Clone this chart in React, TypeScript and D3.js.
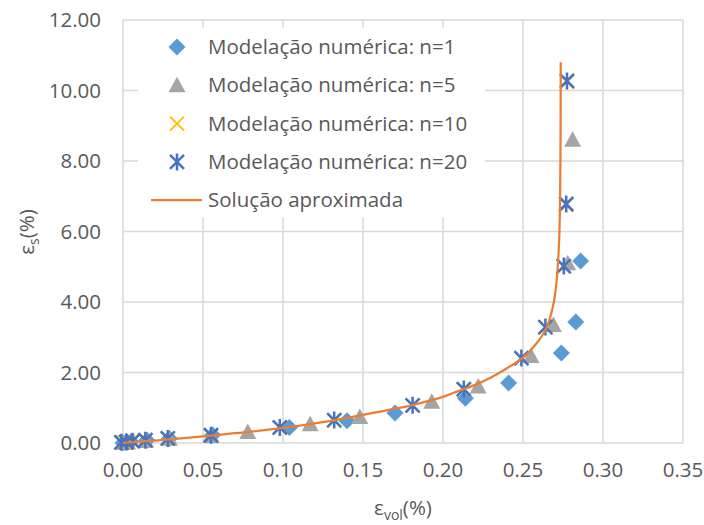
import * as d3 from 'd3';

// n=1 (diamonds)
const n1X = [0.000, 0.002, 0.005, 0.015, 0.029, 0.056, 0.104, 0.140, 0.170, 0.214, 0.241, 0.274, 0.283, 0.286];
const n1Y = [0.00, 0.02, 0.04, 0.08, 0.13, 0.23, 0.44, 0.63, 0.85, 1.27, 1.70, 2.55, 3.43, 5.16];
// n=5 (triangles)
const n5X = [0.000, 0.003, 0.014, 0.029, 0.055, 0.078, 0.117, 0.148, 0.193, 0.222, 0.255, 0.269, 0.278, 0.281];
const n5Y = [0.00, 0.02, 0.06, 0.12, 0.20, 0.31, 0.53, 0.74, 1.17, 1.60, 2.47, 3.35, 5.10, 8.60];
// n=10 (yellow x)
const n10X = [0.000, 0.003, 0.006, 0.014, 0.028, 0.055, 0.098, 0.132, 0.181, 0.213, 0.249, 0.264, 0.2755, 0.277, 0.2775];
const n10Y = [0.02, 0.03, 0.05, 0.08, 0.13, 0.22, 0.43, 0.64, 1.06, 1.52, 2.40, 3.28, 5.00, 6.76, 10.25];
// n=20 (stars)
const n20X = [-0.001, 0.002, 0.006, 0.014, 0.028, 0.055, 0.098, 0.132, 0.181, 0.213, 0.249, 0.264, 0.2755, 0.277, 0.2775];
const n20Y = [0.02, 0.03, 0.05, 0.08, 0.13, 0.22, 0.44, 0.65, 1.07, 1.53, 2.41, 3.29, 5.02, 6.78, 10.27];
// approximate solution (line)
const solX = [0, 0.02, 0.05, 0.08, 0.10, 0.13, 0.15, 0.18, 0.20, 0.21, 0.22, 0.23, 0.24, 0.25, 0.258, 0.262, 0.265, 0.2675, 0.2695, 0.271, 0.272, 0.2727, 0.2731, 0.2734, 0.2736];
const solY = [0, 0.07, 0.19, 0.32, 0.43, 0.63, 0.80, 1.07, 1.31, 1.48, 1.65, 1.86, 2.12, 2.42, 2.80, 3.05, 3.30, 3.65, 4.05, 4.60, 5.20, 5.90, 6.70, 8.00, 10.80];

const xTicks = [0, 0.05, 0.10, 0.15, 0.20, 0.25, 0.30, 0.35];
const yTicks = [0, 2, 4, 6, 8, 10, 12];

const legendLabels = [
  'Modelação numérica: n=1',
  'Modelação numérica: n=5',
  'Modelação numérica: n=10',
  'Modelação numérica: n=20',
  'Solução aproximada',
];

const FONT = "'Open Sans', sans-serif";
const TXT = '#595959';
const GRID = '#d9d9d9';
const C_DIAMOND = '#5b9bd5';
const C_TRI = '#a5a5a5';
const C_X = '#ffc000';
const C_STAR = '#4472c4';
const C_LINE = '#ed7d31';

const zip = (xs: number[], ys: number[]) => xs.map((x, i) => [x, ys[i]] as [number, number]);

const Diamond = ({ x, y }: { x: number; y: number }) => (
  <path d={`M${x},${y - 8.5}L${x + 8.5},${y}L${x},${y + 8.5}L${x - 8.5},${y}Z`} fill={C_DIAMOND} />
);
const Triangle = ({ x, y }: { x: number; y: number }) => (
  <path d={`M${x},${y - 8.5}L${x + 8.5},${y + 7}L${x - 8.5},${y + 7}Z`} fill={C_TRI} />
);
const Cross = ({ x, y }: { x: number; y: number }) => (
  <path d={`M${x - 7},${y - 7}L${x + 7},${y + 7}M${x - 7},${y + 7}L${x + 7},${y - 7}`} stroke={C_X} strokeWidth={2} fill="none" />
);
const Star = ({ x, y }: { x: number; y: number }) => (
  <path
    d={`M${x - 7},${y - 7}L${x + 7},${y + 7}M${x - 7},${y + 7}L${x + 7},${y - 7}M${x},${y - 8.5}L${x},${y + 8.5}`}
    stroke={C_STAR}
    strokeWidth={2.5}
    fill="none"
  />
);

export default function App() {
  const x = d3.scaleLinear().domain([0, 0.35]).range([123, 683]);
  const y = d3.scaleLinear().domain([0, 12]).range([443, 20]);
  const fmt = d3.format('.2f');

  const line = d3
    .line<[number, number]>()
    .x(d => x(d[0]))
    .y(d => y(d[1]))
    .curve(d3.curveCatmullRom.alpha(0.5));

  const legendX = 138;
  const legendY = 28;
  const rowY = (i: number) => 47 + i * 38.3;

  return (
    <svg width={704} height={525} style={{ position: 'absolute', left: 0, top: 0, background: '#fff' }} fontFamily={FONT}>
      {/* grid */}
      {xTicks.map(t => (
        <line key={'gx' + t} x1={x(t)} x2={x(t)} y1={y(12)} y2={y(0)} stroke={GRID} strokeWidth={1.5} />
      ))}
      {yTicks.map(t => (
        <line key={'gy' + t} x1={x(0)} x2={x(0.35)} y1={y(t)} y2={y(t)} stroke={GRID} strokeWidth={1.5} />
      ))}

      {/* tick labels */}
      {yTicks.map(t => (
        <text key={'ty' + t} x={101} y={y(t)} dy="0.35em" textAnchor="end" fontSize={20.5} fill={TXT}>
          {fmt(t)}
        </text>
      ))}
      {xTicks.map(t => (
        <text key={'tx' + t} x={x(t)} y={470} dy="0.35em" textAnchor="middle" fontSize={20.5} fill={TXT}>
          {fmt(t)}
        </text>
      ))}

      {/* axis titles */}
      <text x={403} y={508} dy="0.35em" textAnchor="middle" fontSize={20.5} fill={TXT}>
        ε<tspan fontSize={14} dy="5">vol</tspan>
        <tspan dy="-5">(%)</tspan>
      </text>
      <text transform="translate(27,232) rotate(-90)" dy="0.35em" textAnchor="middle" fontSize={20.5} fill={TXT}>
        ε<tspan fontSize={14} dy="5">s</tspan>
        <tspan dy="-5">(%)</tspan>
      </text>

      {/* legend box */}
      <rect x={legendX} y={legendY} width={347} height={189} fill="#fff" />
      <Diamond x={177} y={rowY(0)} />
      <Triangle x={177} y={rowY(1)} />
      <Cross x={177} y={rowY(2)} />
      <Star x={177} y={rowY(3)} />
      <line x1={151} x2={202} y1={rowY(4)} y2={rowY(4)} stroke={C_LINE} strokeWidth={2.25} />
      {legendLabels.map((l, i) => (
        <text key={l} x={208} y={rowY(i)} dy="0.35em" fontSize={20.5} fill={TXT}>
          {l}
        </text>
      ))}

      {/* series */}
      {zip(n1X, n1Y).map((d, i) => <Diamond key={'d' + i} x={x(d[0])} y={y(d[1])} />)}
      {zip(n5X, n5Y).map((d, i) => <Triangle key={'t' + i} x={x(d[0])} y={y(d[1])} />)}
      {zip(n10X, n10Y).map((d, i) => <Cross key={'c' + i} x={x(d[0])} y={y(d[1])} />)}
      {zip(n20X, n20Y).map((d, i) => <Star key={'s' + i} x={x(d[0])} y={y(d[1])} />)}
      <path d={line(zip(solX, solY)) || ''} fill="none" stroke={C_LINE} strokeWidth={2.25} />
    </svg>
  );
}
